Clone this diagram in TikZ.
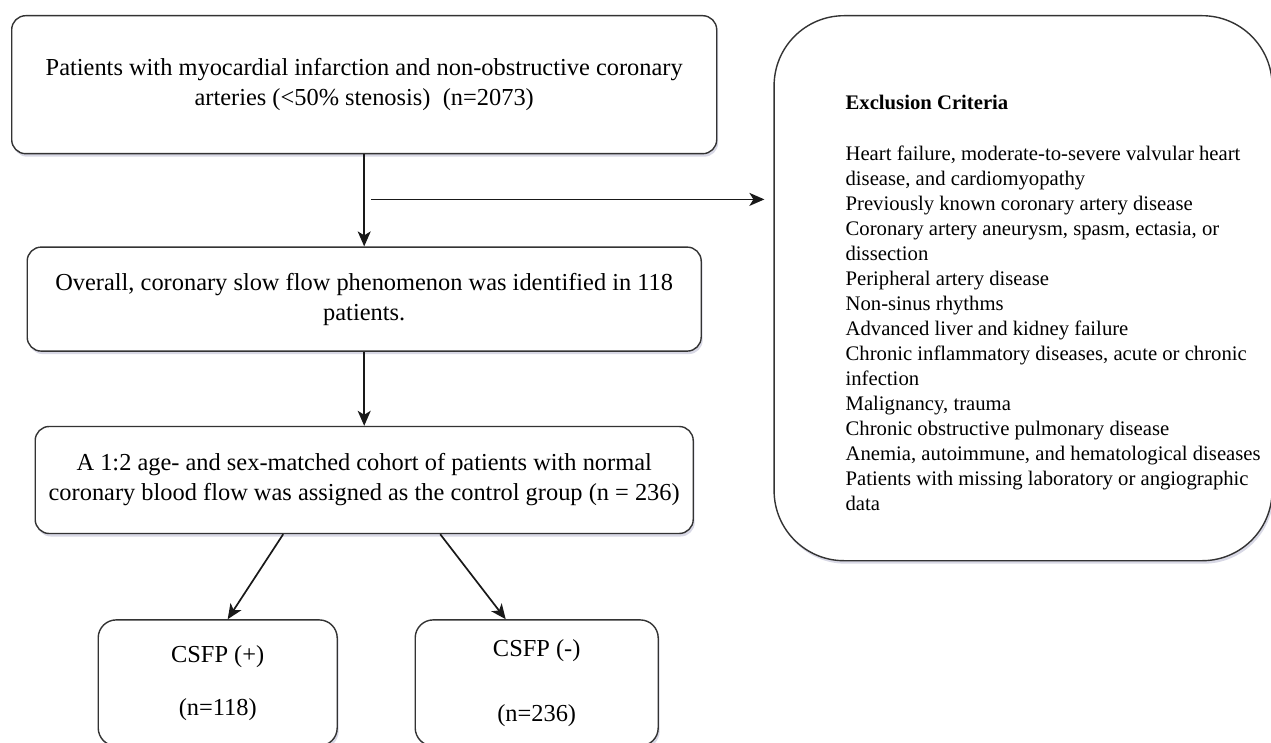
\documentclass[tikz,border=0pt]{standalone}
\usepackage{fontspec}
\setmainfont{Liberation Serif}
\usetikzlibrary{arrows.meta}
\usetikzlibrary{shadows}
\usetikzlibrary{positioning}
\usetikzlibrary{calc}
\begin{document}
\begin{tikzpicture}[x=1pt,y=-1pt]
  \tikzset{node distance=2mm,
           basicbox/.style={draw=black!80,line width=1.4pt,fill=white,rounded corners=14pt,
                            inner sep=0pt,align=center,minimum width=#1,
                            font=\fontsize{24.4}{30}\selectfont,
                            drop shadow={shadow xshift=1.5pt,shadow yshift=-3pt,fill=blue!20!gray!50,opacity=.5}},
           mainbox/.style={basicbox=#1},
           groupbox/.style={basicbox=#1,minimum height=126pt,rounded corners=18pt},
           exclbox/.style={basicbox=498pt,minimum height=545pt,rounded corners=70pt},
           exclfont/.style={font=\fontsize{20.7}{25}\selectfont,align=left,inner sep=0pt},
           flowarrow/.style={-{Stealth[length=15pt,width=13pt,inset=4pt]},line width=1.7pt,black!90}}
  \useasboundingbox (0,0) rectangle (1271,743);

  \node[mainbox=705pt,minimum height=138pt,anchor=north west] (cohort) at (11,15)
    {\raisebox{-3pt}{\parbox{650pt}{\centering
     Patients with myocardial infarction and non-obstructive coronary\\
     arteries (<50\% stenosis) \ (n=2073)}}};
  \node[mainbox=674pt,minimum height=104pt,below=92pt of cohort] (slowflow)
    {Overall, coronary slow flow phenomenon was identified in 118\\
     patients.};
  \node[mainbox=658pt,minimum height=107pt,below=74pt of slowflow] (control)
    {A 1:2 age- and sex-matched cohort of patients with normal\\
     coronary blood flow was assigned as the control group (n = 236)};
  \node[groupbox=239pt,below right=85pt and 63pt of control.south west] (csfpplus)
    {CSFP (+)\\[23pt](n=118)};
  \node[groupbox=243pt,below left=85pt and 35pt of control.south east] (csfpminus)
    {CSFP (-)\\[35pt](n=236)};

  \node[exclbox,below right=0pt and 56pt of cohort.north east] (excl) {};
  \node[exclfont,anchor=north west] (exclitems) at ([xshift=72pt,yshift=-80pt]excl.north west)
    {\textbf{Exclusion Criteria}\\[26pt]
     Heart failure, moderate-to-severe valvular heart\\
     disease, and cardiomyopathy\\
     Previously known coronary artery disease\\
     Coronary artery aneurysm, spasm, ectasia, or\\
     dissection\\
     Peripheral artery disease\\
     Non-sinus rhythms\\
     Advanced liver and kidney failure\\
     Chronic inflammatory diseases, acute or chronic\\
     infection\\
     Malignancy, trauma\\
     Chronic obstructive pulmonary disease\\
     Anemia, autoimmune, and hematological diseases\\
     Patients with missing laboratory or angiographic\\
     data};

  \coordinate (split) at ([xshift=7pt,yshift=-45pt]cohort.south);
  \draw[flowarrow] (cohort.south) -- (cohort.south |- slowflow.north);
  \draw[flowarrow,shorten >=9pt] (split) -- (split -| excl.west);
  \draw[flowarrow] (slowflow.south) -- (slowflow.south |- control.north);
  \draw[flowarrow] ([xshift=-81pt]control.south) -- ([xshift=10pt]csfpplus.north);
  \draw[flowarrow] ([xshift=76pt]control.south) -- ([xshift=-31pt]csfpminus.north);
\end{tikzpicture}
\end{document}
